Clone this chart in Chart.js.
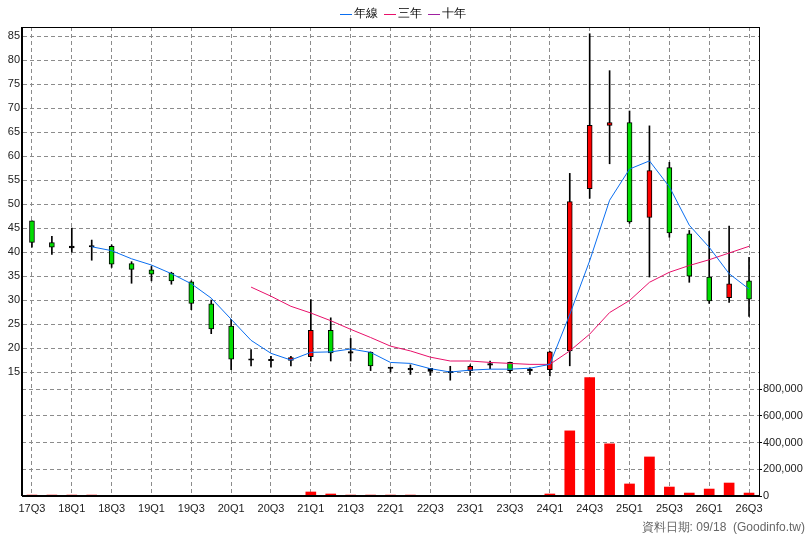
<!DOCTYPE html>
<html lang="zh-Hant">
<head>
<meta charset="UTF-8">
<title>K線圖</title>
<script src="https://cdn.jsdelivr.net/npm/chart.js@4.4.1/dist/chart.umd.min.js"></script>
<style>
  body { margin: 0; background: #fff; }
  #wrap { width: 808px; height: 540px; }
</style>
</head>
<body>
<div id="wrap"><canvas id="c"></canvas></div>
<script>
// quarters
const quarters = ['17Q3','17Q4','18Q1','18Q2','18Q3','18Q4','19Q1','19Q2','19Q3','19Q4','20Q1','20Q2','20Q3','20Q4',
  '21Q1','21Q2','21Q3','21Q4','22Q1','22Q2','22Q3','22Q4','23Q1','23Q2','23Q3','23Q4','24Q1','24Q2','24Q3','24Q4',
  '25Q1','25Q2','25Q3','25Q4','26Q1','26Q2','26Q3'];
const openP  = [46.5,42,41.1,41.2,41.2,37.6,36.3,35.6,33.8,29.2,24.6,17.6,17.5,17.4,18.2,23.7,19.1,19.1,15.9,15.6,15.6,15,15.3,16.6,17,15.4,15.5,19.4,53.2,66.4,67,47.2,57.6,43.8,34.8,30.5,34];
const closeP = [42,41,41,41.2,37.5,36.4,35.4,34,29.3,24,17.7,17.6,17.5,18,23.7,19,19.1,16.3,15.9,15.6,15.3,15,16.2,16.6,15.3,15.4,19.2,50.5,66.4,67,46.3,57,44,35,29.8,33.4,30.2];
const highP  = [46.5,43.3,45,42.5,41.5,38,37,35.8,34,30,26,19.7,18.3,18.3,30.1,26.3,22,19.2,16,16.5,15.7,16.2,16.5,17.3,17.1,15.9,19.3,56.4,85.5,77.8,69.4,66.3,58.7,44.5,44.3,45.4,38.9];
const lowP   = [41,39.5,40,38.3,36.8,33.5,34,33.3,28,23,15.5,16.3,16,16.3,17.3,17.3,17.3,15.3,15,14.5,14.3,13.3,14.3,15.7,14.8,14.5,14.2,16.3,51.2,58.4,46,34.8,43.1,33.7,29.3,29.5,26.6];
const maYear = [null,null,null,41.1,40.3,38.6,37.3,35.5,33.4,30.4,26,21.6,18.9,17.5,19.1,19.2,19.8,19.1,17,16.8,15.7,15,15.4,15.6,15.6,15.8,16.6,27,38.2,50.8,57.3,59,53.6,45.6,41,35.5,32.3];
const ma3Year = [null,null,null,null,null,null,null,null,null,null,null,32.7,30.8,28.7,27.3,25.7,23.9,22.2,20.4,19.4,18.1,17.3,17.3,17,16.8,16.6,16.6,19.4,22.9,27.4,29.9,33.7,35.8,37.2,38.4,39.8,41.2];
const ma10Year = quarters.map(() => null);
const volume = [7000,7000,7000,7000,2000,2000,2000,2000,2000,2000,2000,2000,5000,2000,30000,15000,7000,7000,7000,7000,5000,5000,5000,5000,3000,3000,15000,487000,885000,390000,90000,292000,67000,22000,52000,97000,22000];
const priceTicks = [15,20,25,30,35,40,45,50,55,60,65,70,75,80,85];
const volTicks = [0,200000,400000,600000,800000];

const bodies = quarters.map((q, i) => {
  const lo = Math.min(openP[i], closeP[i]), hi = Math.max(openP[i], closeP[i]);
  return hi - lo < 0.3 ? [lo - 0.15, hi + 0.15] : [lo, hi];
});
const bodyColors = quarters.map((q, i) => {
  if (Math.abs(closeP[i] - openP[i]) < 0.3) return '#000';
  return closeP[i] > openP[i] ? '#ff0000' : '#00dd00';
});
const wicks = quarters.map((q, i) => [lowP[i], highP[i]]);

const dash = { color: '#8c8c8c', lineWidth: 1 };
const bdr = { display: true, dash: [4, 3], color: '#000' };
const font = { family: 'Liberation Sans, Arial, sans-serif', size: 11 };

const extras = {
  id: 'extras',
  afterDraw(chart) {
    const { ctx, chartArea: a } = chart;
    ctx.save();
    ctx.strokeStyle = '#000';
    ctx.lineWidth = 1;
    ctx.strokeRect(a.left + 0.5, a.top + 0.5, a.right - a.left, a.bottom - a.top);
    ctx.lineWidth = 2;
    ctx.beginPath();
    ctx.moveTo(a.left, a.top); ctx.lineTo(a.left, a.bottom);
    ctx.moveTo(a.left, a.bottom); ctx.lineTo(a.right, a.bottom);
    ctx.stroke();
    // legend
    ctx.font = '12px "Liberation Sans", Arial, sans-serif';
    ctx.textBaseline = 'middle';
    ctx.lineWidth = 1;
    const items = [['年線', '#0a6ef0', 340], ['三年', '#e8106a', 384], ['十年', '#a020a0', 428]];
    items.forEach(([t, c, x]) => {
      ctx.strokeStyle = c;
      ctx.beginPath(); ctx.moveTo(x, 14.5); ctx.lineTo(x + 12, 14.5); ctx.stroke();
      ctx.fillStyle = '#000';
      ctx.fillText(t, x + 14, 14);
    });
    ctx.fillStyle = '#666';
    ctx.textAlign = 'right';
    ctx.fillText('資料日期: 09/18  (Goodinfo.tw)', 805, 528);
    ctx.restore();
  }
};

new Chart(document.getElementById('c'), {
  data: {
    labels: quarters,
    datasets: [
      { type: 'line', label: '年線', data: maYear, borderColor: '#0a6ef0', borderWidth: 1, pointRadius: 0, yAxisID: 'price', order: 0 },
      { type: 'line', label: '三年', data: ma3Year, borderColor: '#e8106a', borderWidth: 1, pointRadius: 0, yAxisID: 'price', order: 0 },
      { type: 'line', label: '十年', data: ma10Year, borderColor: '#a020a0', borderWidth: 1, pointRadius: 0, yAxisID: 'price', order: 0 },
      { type: 'bar', data: bodies, backgroundColor: bodyColors, borderColor: '#000', borderWidth: 1, borderSkipped: false,
        barThickness: 5, grouped: false, yAxisID: 'price', order: 1 },
      { type: 'bar', data: wicks, backgroundColor: '#000', barThickness: 1, grouped: false, yAxisID: 'price', order: 2 },
      { type: 'bar', data: volume, backgroundColor: '#ff0000', barThickness: 10, grouped: false, yAxisID: 'vol', order: 3 }
    ]
  },
  options: {
    responsive: true,
    maintainAspectRatio: false,
    animation: false,
    layout: { padding: { top: 27 } },
    plugins: { legend: { display: false }, tooltip: { enabled: false } },
    scales: {
      x: {
        offset: true,
        grid: { ...dash, offset: false, drawTicks: false, color: (c) => c.index % 2 === 0 ? '#8c8c8c' : 'transparent' },
        border: bdr,
        ticks: { autoSkip: false, maxRotation: 0, color: '#222', font, padding: 6,
          callback: (v, i) => i % 2 === 0 ? quarters[i] : '' },
        afterFit: (s) => { s.height = 44; }
      },
      price: {
        position: 'left', min: -10.83, max: 86.9,
        afterBuildTicks: (s) => { s.ticks = priceTicks.map(v => ({ value: v })); },
        grid: { ...dash, drawTicks: false },
        border: bdr,
        ticks: { color: '#222', font, padding: 2 },
        afterFit: (s) => { s.width = 22; }
      },
      vol: {
        position: 'right', min: 0, max: 3507000,
        afterBuildTicks: (s) => { s.ticks = volTicks.map(v => ({ value: v })); },
        grid: { ...dash, drawTicks: true, tickLength: 3, tickBorderDash: [], tickColor: '#000' },
        border: bdr,
        ticks: { color: '#222', font, padding: 1, callback: (v) => v.toLocaleString('en-US') },
        afterFit: (s) => { s.width = 49; }
      }
    }
  },
  plugins: [extras]
});
</script>
</body>
</html>
